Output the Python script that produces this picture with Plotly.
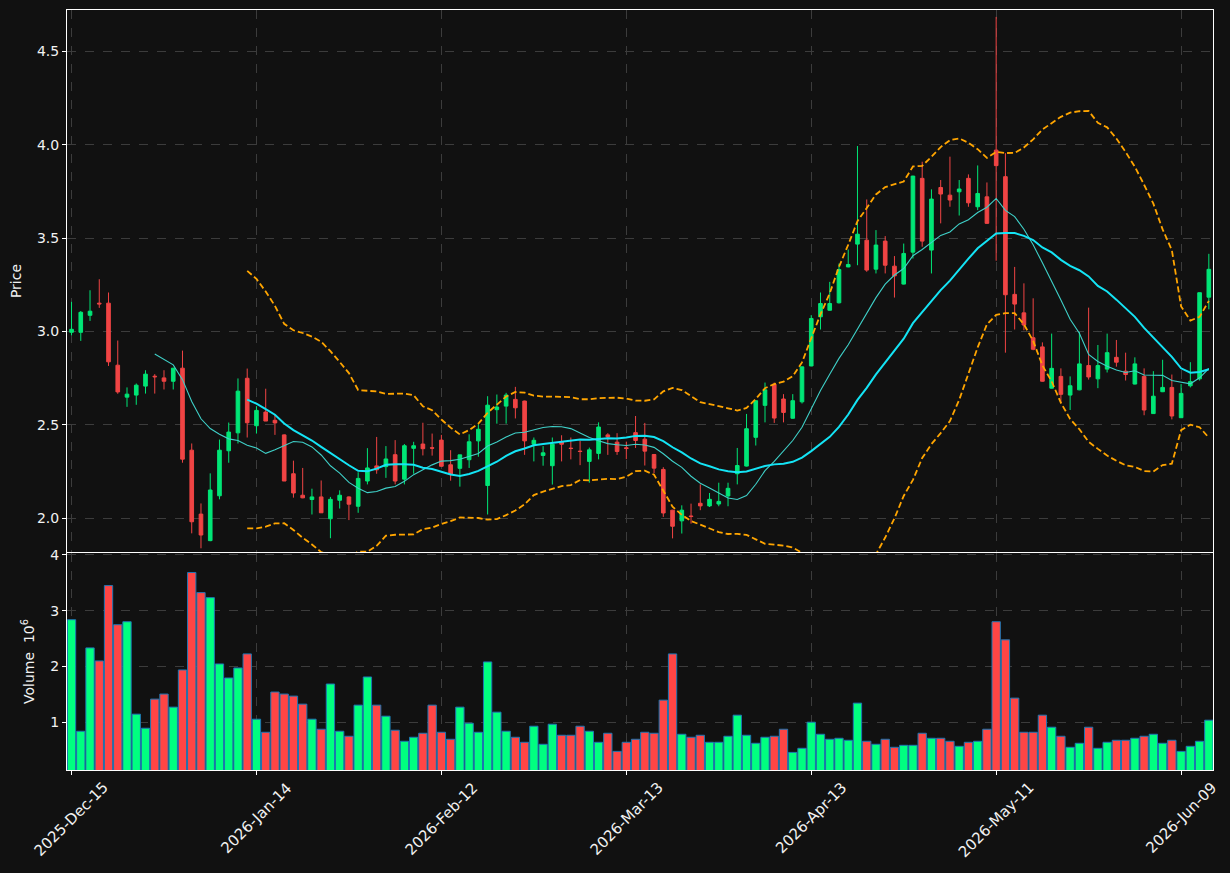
import pandas as pd
import plotly.graph_objects as go
from plotly.subplots import make_subplots

# ---------------- data ----------------
holidays = ["2025-12-25", "2026-01-01", "2026-01-19", "2026-02-16", "2026-04-03", "2026-05-25"]
dates = pd.bdate_range("2025-12-15", periods=124, freq="C", holidays=holidays)

open_ = [2.996, 2.996, 3.087, 3.152, 3.152, 2.820, 2.649, 2.660, 2.708, 2.761,
         2.752, 2.734, 2.804, 2.365, 2.023, 1.881, 2.121, 2.362, 2.458, 2.750,
         2.496, 2.569, 2.525, 2.447, 2.239, 2.124, 2.101, 2.115, 1.998, 2.097,
         2.115, 2.065, 2.200, 2.281, 2.277, 2.341, 2.210, 2.375, 2.398, 2.378,
         2.419, 2.287, 2.268, 2.314, 2.415, 2.176, 2.582, 2.601, 2.637, 2.628,
         2.397, 2.337, 2.282, 2.411, 2.376, 2.360, 2.305, 2.348, 2.447, 2.408,
         2.378, 2.459, 2.424, 2.342, 2.262, 2.044, 1.987, 2.013, 2.081, 2.067,
         2.077, 2.120, 2.239, 2.280, 2.434, 2.605, 2.718, 2.639, 2.536, 2.624,
         2.816, 3.079, 3.114, 3.154, 3.346, 3.468, 3.489, 3.334, 3.484, 3.350,
         3.254, 3.425, 3.820, 3.436, 3.771, 3.730, 3.748, 3.820, 3.668, 3.721,
         3.971, 3.829, 3.199, 3.100, 2.967, 2.918, 2.697, 2.760, 2.660, 2.688,
         2.818, 2.747, 2.799, 2.862, 2.788, 2.719, 2.760, 2.561, 2.678, 2.701,
         2.539, 2.710, 2.747, 3.184]
high = [3.159, 3.110, 3.221, 3.280, 3.209, 2.952, 2.701, 2.722, 2.793, 2.772,
        2.793, 2.806, 2.898, 2.401, 2.080, 2.241, 2.422, 2.513, 2.749, 2.802,
        2.600, 2.694, 2.557, 2.450, 2.309, 2.270, 2.159, 2.203, 2.115, 2.150,
        2.118, 2.247, 2.376, 2.436, 2.387, 2.419, 2.398, 2.410, 2.512, 2.454,
        2.447, 2.365, 2.340, 2.450, 2.504, 2.654, 2.663, 2.672, 2.704, 2.630,
        2.433, 2.387, 2.433, 2.445, 2.433, 2.415, 2.379, 2.514, 2.456, 2.456,
        2.411, 2.548, 2.511, 2.345, 2.274, 2.046, 2.070, 2.079, 2.182, 2.136,
        2.191, 2.191, 2.377, 2.559, 2.632, 2.727, 2.727, 2.665, 2.665, 2.813,
        3.088, 3.209, 3.266, 3.364, 3.439, 3.993, 3.707, 3.543, 3.511, 3.404,
        3.471, 3.834, 3.909, 3.761, 3.811, 3.936, 3.811, 3.841, 3.889, 3.798,
        4.684, 3.955, 3.346, 3.258, 3.178, 2.942, 2.989, 2.803, 2.760, 2.998,
        3.128, 2.928, 2.989, 2.955, 2.887, 2.862, 2.803, 2.788, 2.849, 2.770,
        2.719, 2.836, 3.208, 3.416]
low = [2.980, 2.950, 3.057, 3.127, 2.816, 2.667, 2.597, 2.608, 2.668, 2.668,
       2.690, 2.690, 2.298, 1.920, 1.840, 1.878, 2.102, 2.298, 2.401, 2.433,
       2.454, 2.521, 2.447, 2.200, 2.111, 2.108, 2.021, 2.030, 1.894, 2.053,
       1.991, 2.030, 2.182, 2.239, 2.217, 2.182, 2.182, 2.239, 2.337, 2.336,
       2.277, 2.202, 2.170, 2.270, 2.330, 2.021, 2.507, 2.507, 2.535, 2.340,
       2.305, 2.282, 2.181, 2.305, 2.316, 2.285, 2.191, 2.316, 2.340, 2.340,
       2.317, 2.377, 2.283, 2.242, 2.008, 1.893, 1.919, 1.972, 2.044, 2.061,
       2.065, 2.065, 2.182, 2.278, 2.390, 2.514, 2.511, 2.514, 2.534, 2.615,
       2.814, 3.011, 3.112, 3.150, 3.344, 3.355, 3.320, 3.311, 3.311, 3.182,
       3.252, 3.391, 3.454, 3.311, 3.579, 3.668, 3.621, 3.668, 3.650, 3.577,
       3.379, 2.887, 3.011, 3.007, 2.900, 2.732, 2.695, 2.617, 2.580, 2.686,
       2.743, 2.697, 2.781, 2.812, 2.738, 2.717, 2.552, 2.559, 2.676, 2.530,
       2.537, 2.701, 2.738, 3.119]
close = [3.012, 3.103, 3.109, 3.148, 2.838, 2.677, 2.665, 2.713, 2.772, 2.758,
         2.734, 2.804, 2.317, 1.982, 1.911, 2.152, 2.365, 2.462, 2.681, 2.512,
         2.578, 2.521, 2.511, 2.200, 2.136, 2.110, 2.115, 2.030, 2.102, 2.124,
         2.076, 2.214, 2.270, 2.260, 2.318, 2.200, 2.389, 2.389, 2.373, 2.376,
         2.279, 2.238, 2.340, 2.410, 2.477, 2.606, 2.596, 2.660, 2.592, 2.415,
         2.418, 2.351, 2.397, 2.397, 2.374, 2.358, 2.367, 2.489, 2.436, 2.358,
         2.374, 2.417, 2.360, 2.269, 2.029, 1.958, 2.044, 2.010, 2.067, 2.102,
         2.091, 2.161, 2.283, 2.480, 2.630, 2.688, 2.537, 2.567, 2.630, 2.811,
         3.070, 3.150, 3.150, 3.332, 3.359, 3.521, 3.329, 3.463, 3.355, 3.298,
         3.418, 3.832, 3.484, 3.709, 3.736, 3.704, 3.763, 3.689, 3.739, 3.579,
         3.888, 3.197, 3.147, 3.035, 2.905, 2.734, 2.803, 2.664, 2.710, 2.827,
         2.757, 2.818, 2.887, 2.836, 2.770, 2.827, 2.580, 2.654, 2.701, 2.548,
         2.669, 2.732, 3.208, 3.333]
volume_m = [2.838, 0.838, 2.333, 2.099, 3.450, 2.748, 2.802, 1.144, 0.892, 1.414,
            1.505, 1.270, 1.937, 3.685, 3.324, 3.234, 2.045, 1.793, 1.973, 2.225,
            1.054, 0.820, 1.541, 1.505, 1.468, 1.324, 1.054, 0.874, 1.685, 0.838,
            0.748, 1.306, 1.811, 1.306, 1.108, 0.856, 0.658, 0.730, 0.802, 1.306,
            0.820, 0.694, 1.270, 0.982, 0.820, 2.081, 1.180, 0.838, 0.730, 0.640,
            0.928, 0.604, 0.964, 0.766, 0.766, 0.928, 0.838, 0.640, 0.802, 0.477,
            0.640, 0.694, 0.820, 0.802, 1.396, 2.225, 0.784, 0.730, 0.766, 0.640,
            0.640, 0.748, 1.126, 0.766, 0.622, 0.730, 0.748, 0.874, 0.459, 0.532,
            1.000, 0.784, 0.694, 0.712, 0.676, 1.342, 0.658, 0.604, 0.694, 0.550,
            0.586, 0.586, 0.802, 0.712, 0.712, 0.658, 0.568, 0.640, 0.658, 0.874,
            2.802, 2.477, 1.432, 0.820, 0.820, 1.126, 0.910, 0.748, 0.550, 0.622,
            0.910, 0.532, 0.640, 0.676, 0.676, 0.712, 0.748, 0.784, 0.622, 0.676,
            0.477, 0.568, 0.658, 1.036]

price_ticks = [2.0, 2.5, 3.0, 3.5, 4.0, 4.5]
volume_ticks = [1, 2, 3, 4]
tick_every = 20

# ---------------- derived ----------------
x = list(dates.strftime("%Y-%m-%d"))
cs = pd.Series(close)
ma10 = cs.rolling(10).mean()
ma20 = cs.rolling(20).mean()
sd20 = cs.rolling(20).std(ddof=0)
bb_up = ma20 + 2 * sd20
bb_lo = ma20 - 2 * sd20

UP_C, DN_C = "#00E676", "#F04444"
UP_V, DN_V = "#00FF80", "#FF4545"
vol_colors = [UP_V if c >= o else DN_V for o, c in zip(open_, close)]

BG = "#111111"
GRID = "#3c3c3c"
FG = "#f2f2f2"
FONT = "DejaVu Sans"

fig = make_subplots(rows=2, cols=1, shared_xaxes=True, vertical_spacing=0.0)

fig.add_trace(go.Candlestick(
    x=x, open=open_, high=high, low=low, close=close,
    increasing=dict(line=dict(color=UP_C, width=1), fillcolor=UP_C),
    decreasing=dict(line=dict(color=DN_C, width=1), fillcolor=DN_C),
    whiskerwidth=0, showlegend=False, name="Price"), row=1, col=1)

fig.add_trace(go.Scatter(x=x, y=ma10, mode="lines", line=dict(color="#3fd0c8", width=1.1),
                         showlegend=False, name="MA10"), row=1, col=1)
fig.add_trace(go.Scatter(x=x, y=ma20, mode="lines", line=dict(color="#14e4f5", width=2),
                         showlegend=False, name="MA20"), row=1, col=1)
fig.add_trace(go.Scatter(x=x, y=bb_up, mode="lines", line=dict(color="#FFA500", width=1.8, dash="6px,3px"),
                         showlegend=False, name="BB upper"), row=1, col=1)
fig.add_trace(go.Scatter(x=x, y=bb_lo, mode="lines", line=dict(color="#FFA500", width=1.8, dash="6px,3px"),
                         showlegend=False, name="BB lower"), row=1, col=1)

fig.add_trace(go.Bar(x=x, y=volume_m, width=0.9,
                     marker=dict(color=vol_colors, line=dict(color="#1f77b4", width=1)),
                     showlegend=False, name="Volume"), row=2, col=1)

tickvals = x[::tick_every]
ticktext = list(dates[::tick_every].strftime("%Y-%b-%d"))

axis_common = dict(
    showline=True, mirror=True, linecolor="white", linewidth=1,
    showgrid=True, gridcolor=GRID, griddash="dash", gridwidth=1,
    zeroline=False, ticks="outside", tickcolor="white", ticklen=4, tickwidth=1,
    tickfont=dict(family=FONT, size=14, color=FG), automargin=False,
)

fig.update_xaxes(type="category", range=[-0.49, 123.45], tickvals=tickvals,
                 showticklabels=False, rangeslider=dict(visible=False), **axis_common)

fig.update_yaxes(**axis_common)
fig.update_yaxes(range=[1.820, 4.721], tickvals=price_ticks, tickformat=".1f",
                 title=dict(text="Price", font=dict(family=FONT, size=14, color=FG), standoff=12),
                 domain=[0.2868, 1.0], row=1, col=1)
fig.update_yaxes(range=[0.143, 4.034], tickvals=volume_ticks,
                 title=dict(text="Volume  10<sup>6</sup>", font=dict(family=FONT, size=14, color=FG), standoff=12),
                 domain=[0.0, 0.2855], row=2, col=1)

# rotated date labels, centred under each tick (as in the reference)
for tv, tt in zip(tickvals, ticktext):
    fig.add_annotation(x=tv, y=0, xref="x2", yref="paper", text=tt, showarrow=False,
                       textangle=-45, xanchor="center", yanchor="top", yshift=-6,
                       font=dict(family=FONT, size=15, color=FG))

fig.update_layout(
    width=1230, height=873,
    margin=dict(l=67, r=17, t=10, b=103),
    paper_bgcolor=BG, plot_bgcolor=BG,
    font=dict(family=FONT, size=14, color=FG),
    boxgap=0.44, bargap=0.1,
    showlegend=False,
)

fig.write_html("out.html")
